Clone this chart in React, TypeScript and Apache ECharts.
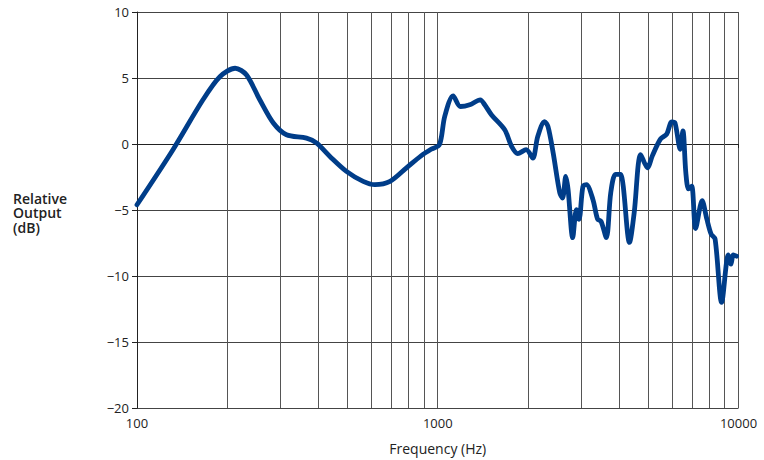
import React, { useEffect, useRef } from "react";
import * as echarts from "echarts";

const freqs = [
  100, 131.7, 165.7, 188.6, 212, 231, 256, 284, 314, 366, 395, 438, 497, 565, 618, 694, 787, 880, 950, 1013,
  1055, 1125, 1190, 1277, 1385, 1433, 1510, 1670, 1760, 1845, 1968, 2070, 2150, 2265, 2325, 2420, 2545, 2600,
  2665, 2713, 2810, 2890, 2950, 3040, 3120, 3280, 3400, 3490, 3635, 3760, 3900, 4050, 4340, 4500, 4730, 4980,
  5170, 5500, 5770, 6000, 6150, 6400, 6535, 6680, 6820, 6990, 7200, 7570, 7850, 8110, 8360, 8790, 9250, 9440,
  9610, 9850,
];
const dbValues = [
  -4.6, -0.43, 3.35, 5.1, 5.74, 5.24, 3.35, 1.59, 0.7, 0.45, 0.08, -0.94, -2.07, -2.83, -3.08, -2.83, -1.81, -0.9,
  -0.4, -0.05, 2.1, 3.65, 2.84, 2.97, 3.35, 2.97, 2.2, 1.08, -0.18, -0.73, -0.43, -1.06, 0.57, 1.7, 1.33, -0.68,
  -3.7, -4.1, -2.45, -3.46, -7.1, -4.97, -5.7, -3.2, -3.08, -4.2, -5.7, -5.85, -7.1, -3.7, -2.3, -2.3, -7.46,
  -5.2, -0.8, -1.8, -0.9, 0.37, 0.75, 1.68, 1.6, -0.4, 1.0, -2.15, -3.4, -3.2, -6.4, -4.3, -5.7, -6.83, -7.2,
  -12.0, -8.4, -9.1, -8.4, -8.5,
];
const minorGridFreqs = [200, 300, 400, 500, 600, 700, 800, 900, 2000, 3000, 4000, 5000, 6000, 7000, 8000, 9000];
const yTitleLines = ["Relative", "Output", "(dB)"];

const FONT = "'Open Sans', 'Noto Sans', sans-serif";

export default function App() {
  const ref = useRef<HTMLDivElement>(null);
  useEffect(() => {
    if (!ref.current) return;
    const chart = echarts.init(ref.current, null, { renderer: "svg" });
    chart.setOption({
      animation: false,
      backgroundColor: "#ffffff",
      grid: { left: 137, right: 25.5, top: 12, bottom: 51 },
      xAxis: {
        type: "log",
        logBase: 10,
        min: 100,
        max: 10000,
        name: "Frequency (Hz)",
        nameLocation: "middle",
        nameGap: 33,
        nameTextStyle: { fontFamily: FONT, fontSize: 14, color: "#222" },
        axisLine: { show: true, lineStyle: { color: "#222", width: 1 } },
        axisTick: { show: true, length: 4, lineStyle: { color: "#222" } },
        axisLabel: {
          fontFamily: FONT,
          fontSize: 13,
          color: "#222",
          margin: 8,
          formatter: (v: number) => String(Math.round(v)),
        },
        splitLine: { show: true, lineStyle: { color: "#555", width: 1 } },
      },
      yAxis: {
        type: "value",
        min: -20,
        max: 10,
        interval: 5,
        axisLine: { show: true, lineStyle: { color: "#222", width: 1 } },
        axisTick: { show: true, length: 5, lineStyle: { color: "#222" } },
        axisLabel: {
          fontFamily: FONT,
          fontSize: 13,
          color: "#222",
          margin: 8,
          formatter: (v: number) => (v < 0 ? "\u2212" + Math.abs(v) : String(v)),
        },
        splitLine: { show: true, lineStyle: { color: "#444", width: 1 } },
      },
      graphic: yTitleLines.map((t, i) => ({
        type: "text",
        left: 13,
        top: 191 + i * 14.5,
        style: {
          text: t,
          fontFamily: FONT,
          fontSize: 14,
          fontWeight: 600,
          fill: "#222",
        },
      })),
      series: [
        {
          type: "line",
          data: [[100, -20]],
          symbol: "none",
          lineStyle: { width: 0 },
          silent: true,
          z: 1,
          markLine: {
            silent: true,
            symbol: "none",
            label: { show: false },
            lineStyle: { color: "#555", width: 1, type: "solid" },
            data: minorGridFreqs.map((f) => ({ xAxis: f })),
          },
        },
        {
          type: "line",
          data: freqs.map((f, i) => [f, dbValues[i]]),
          symbol: "none",
          smooth: 0.3,
          z: 5,
          lineStyle: { color: "#003d89", width: 4.8, cap: "round", join: "round" },
        },
      ],
    });
    return () => chart.dispose();
  }, []);
  return (
    <div
      ref={ref}
      style={{ position: "fixed", left: 0, top: 0, width: 764, height: 460 }}
    />
  );
}
